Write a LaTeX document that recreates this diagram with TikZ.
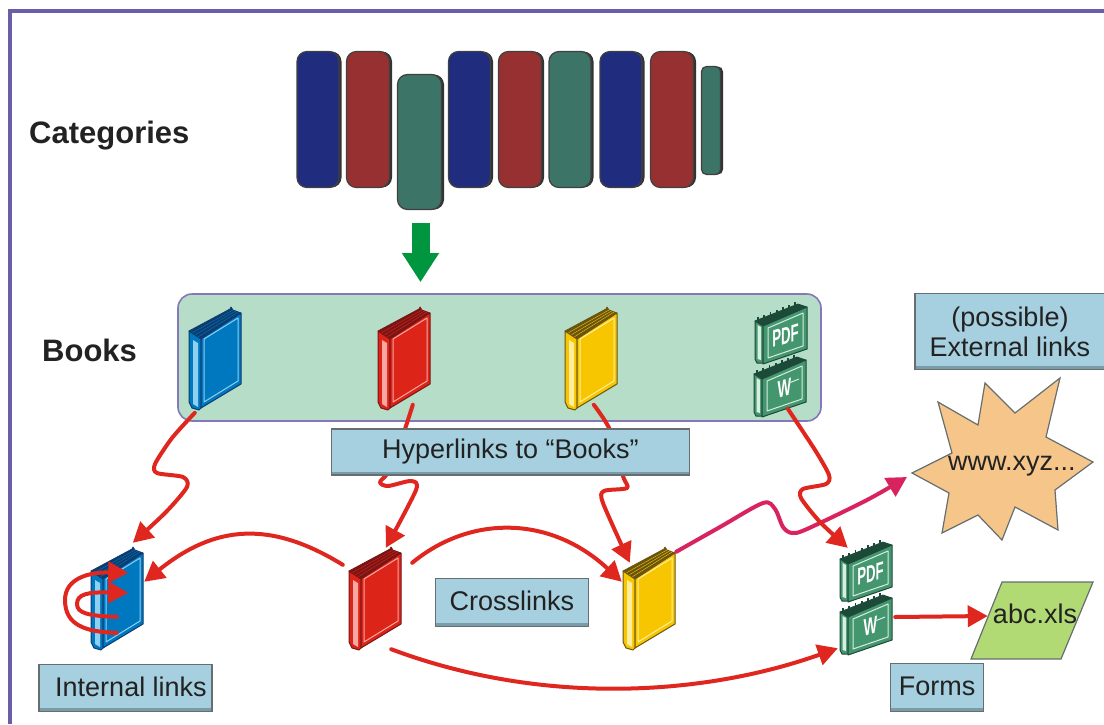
\documentclass[tikz,border=0pt]{standalone}
\usepackage{fontspec}
\setmainfont{Liberation Sans}
\usetikzlibrary{arrows.meta,calc,shadows}
\definecolor{framec}{HTML}{6A5EA8}
\definecolor{catblue}{HTML}{202D7E}
\definecolor{catred}{HTML}{973030}
\definecolor{catgreen}{HTML}{3C7468}
\definecolor{groupfill}{HTML}{B5DDC8}
\definecolor{groupline}{HTML}{8478B8}
\definecolor{boxfill}{HTML}{A6D0DF}
\definecolor{boxline}{HTML}{666E70}
\definecolor{boxbase}{HTML}{7A9CA8}
\definecolor{linkred}{HTML}{E0271F}
\definecolor{linkpink}{HTML}{D9235F}
\definecolor{arrowgreen}{HTML}{009640}
\definecolor{inkc}{HTML}{222222}
\definecolor{burstfill}{HTML}{F5C58A}
\definecolor{xlsfill}{HTML}{B2DA74}
\definecolor{docfront}{HTML}{44966F}
\definecolor{docdark}{HTML}{1D4A38}
\definecolor{docline}{HTML}{D8EEE2}
\definecolor{bfront}{HTML}{0078C0}
\definecolor{bdark}{HTML}{0C3C70}
\definecolor{blight}{HTML}{8FD0F0}
\definecolor{rfront}{HTML}{DC2418}
\definecolor{rdark}{HTML}{7A1515}
\definecolor{rlight}{HTML}{F8A8A0}
\definecolor{yfront}{HTML}{F8C600}
\definecolor{ydark}{HTML}{6A5510}
\definecolor{ylight}{HTML}{FFEEA0}
\tikzset{
  catbar/.style={rounded corners=10pt,inner sep=0pt,draw=black!75,line width=1.2pt,fill=#1,
    drop shadow={opacity=1,fill=black!80,shadow xshift=2.5pt,shadow yshift=0pt}},
  textbox/.style={fill=boxfill,draw=boxline,line width=1.4pt,inner sep=0pt,align=center,
    text=inkc,font=\fontsize{27}{30}\selectfont,
    path picture={\fill[boxbase] ([yshift=3.5pt]path picture bounding box.south west) rectangle (path picture bounding box.south east);}},
  heading/.style={font=\fontsize{31}{32}\selectfont\bfseries,text=inkc,inner sep=0pt},
  link/.style={draw=linkred,line width=4pt,line cap=round,line join=round,
    -{Triangle[length=20pt,width=21pt]}},
  pinklink/.style={link,draw=linkpink},
  shape label/.style={font=\fontsize{27}{30}\selectfont,text=inkc,inner sep=0pt},
}
\newcommand{\bookicon}[6]{%
\begin{scope}[shift={(#2,#3)},line join=round]
  \node[inner sep=0pt,minimum width=53pt,minimum height=103pt] (#1) at (26.5,51.5) {};
  \fill[#5,draw=#5,line width=.8pt] (0,24)--(41,2)--(42,0)--(44,3)--(52,6)--(12,32)--cycle;
  \draw[#4,line width=.4pt] (3,26)--(44,3) (6,28)--(46.5,4) (9,30)--(49,5);
  \fill[#4,draw=#5,line width=1pt] (0,24)--(12,32)--(12,101)--(10,103)--(3,101)--(0,95)--cycle;
  \fill[#6] (4,33)--(9,36)--(9,100)--(4,97)--cycle;
  \fill[#4,draw=#5,line width=1pt] (12,32)--(52,6)--(52,77)--(12,101)--cycle;
  \draw[#6,line width=1pt] (15,32)--(49,11)--(49,74)--(15,95)--cycle;
\end{scope}}
\newcommand{\docicon}[5]{%
\begin{scope}[shift={(#2,#3)},line join=round]
  \node[inner sep=0pt,minimum width=52pt,minimum height=60pt] (#1) at (26,30) {};
  \fill[docdark,draw=docdark,line width=.8pt] (0,17)--(43,0)--(52,3)--(8,22)--cycle;
  \foreach \i in {0,...,6}{\draw[docdark,line width=1.8pt] ({3+6.2*\i},{16-2.5*\i})--++(0,-2.8);}
  \fill[docfront,draw=docdark,line width=1pt] (0,17)--(8,22)--(8,59)--(2,59)--(0,55)--cycle;
  \fill[docline] (2.5,21)--(6,23)--(6,56)--(2.5,55)--cycle;
  \fill[docfront,draw=docdark,line width=1pt] (8,22)--(52,3)--(52,45)--(8,60)--cycle;
  \draw[docline,line width=1pt] (13,24)--(48,9)--(48,42)--(13,54)--cycle;
  \node[transform shape,yslant=.3,xscale=#5,font=\fontsize{24}{24}\selectfont\bfseries,text=white,inner sep=0pt] at (30.5,31.5) {#4};
\end{scope}}
\newcommand{\wdash}[2]{\draw[docline,line width=1pt] (#1+35,#2+26)--(#1+45,#2+22);}
\begin{document}
\begin{tikzpicture}[x=1pt,y=-1pt]
\useasboundingbox (0,0) rectangle (1104,724);
% frame
\coordinate (frameTL) at (10,11);
\coordinate (frameB) at (10,724);
\coordinate (frameR) at (1104,11);
\draw[framec,line width=3.2pt] (frameB) -- (frameTL) -- (frameR);
% headings
\node[heading,anchor=west] (catTitle) at (29,136) {Categories};
\node[heading,anchor=west] (bookTitle) at (42,350) {Books};
% category bars
\node[catbar=catblue,minimum width=42pt,minimum height=136pt] (c1) at (318,119.5) {};
\node[catbar=catred,minimum width=43pt,minimum height=136pt] (c2) at (368,119.5) {};
\node[catbar=catgreen,minimum width=44pt,minimum height=135pt] (c3) at (419.5,142) {};
\node[catbar=catblue,minimum width=42pt,minimum height=136pt] (c4) at (469.5,119.5) {};
\node[catbar=catred,minimum width=43pt,minimum height=136pt] (c5) at (520,119.5) {};
\node[catbar=catgreen,minimum width=42pt,minimum height=136pt] (c6) at (570,119.5) {};
\node[catbar=catblue,minimum width=42pt,minimum height=136pt] (c7) at (621,119.5) {};
\node[catbar=catred,minimum width=43pt,minimum height=136pt] (c8) at (672,119.5) {};
\node[catbar=catgreen,rounded corners=5pt,minimum width=19pt,minimum height=108pt] (c9) at (711,120.5) {};
% group
\node[fill=groupfill,draw=groupline,line width=1.6pt,rounded corners=14pt,inner sep=0pt,minimum width=643pt,minimum height=127pt] (group) at (499.5,357.5) {};
% green arrow
\draw[arrowgreen,line width=18pt,-{Triangle[length=29pt,width=35pt]}] ($(c3.south)+(1,13)$) -- ($(group.north)+(-79,-11)$);
% books
\bookicon{bkBlue}{189}{307}{bfront}{bdark}{blight}
\bookicon{bkRed}{378}{307}{rfront}{rdark}{rlight}
\bookicon{bkYellow}{565}{307}{yfront}{ydark}{ylight}
\docicon{docPdfTop}{755}{304}{PDF}{.55}
\docicon{docWTop}{754}{357}{W}{.6}
\wdash{754}{357}
\bookicon{lowBlue}{91}{547}{bfront}{bdark}{blight}
\bookicon{lowRed}{349}{547}{rfront}{rdark}{rlight}
\bookicon{lowYellow}{623}{547}{yfront}{ydark}{ylight}
\docicon{docPdfLow}{840}{542}{PDF}{.55}
\docicon{docWLow}{840}{595}{W}{.6}
\wdash{840}{595}
% burst and form
\fill[burstfill,draw=boxline,line width=1.2pt,line join=miter]
 (912,473)--(952,453)--(938,402)--(978,425)--(985,383)--(1015,413)--(1060,378)--(1046,437)--(1093,462)--(1055,490)--(1058,530)--(1015,507)--(1002,540)--(978,515)--(942,533)--(949,493)--cycle;
\node[shape label,anchor=west] (xyz) at (948,466) {www.xyz...};
\fill[xlsfill,draw=boxline,line width=1.2pt] (1002,582)--(1093,582)--(1061,659)--(971,659)--cycle;
\node[shape label] (xls) at (1035,614) {abc.xls};
% anchors
\coordinate (bkBlueOut) at ($(bkBlue.north west)+(6,106)$);
\coordinate (bkRedOut) at ($(bkRed.north west)+(35,98)$);
\coordinate (bkYellowOut) at ($(bkYellow.north west)+(29,98)$);
\coordinate (docOut) at ($(docWTop.north west)+(34,52)$);
\coordinate (lowBlueIn) at ($(lowBlue.north west)+(42,-4)$);
\coordinate (lowRedIn) at ($(lowRed.north west)+(37,1)$);
\coordinate (lowYellowIn) at ($(lowYellow.north west)+(7,16)$);
\coordinate (lowYellowOut) at ($(lowYellow.north east)+(0,5)$);
\coordinate (lowDocIn) at ($(docPdfLow.north west)+(8,6)$);
% pink link
\draw[pinklink] plot[smooth,tension=.5] coordinates {(lowYellowOut) (720,527) (763,503) (775,509) (783,527) (792,533) (807,529) (867,500) (907,477)};
% wiggly links from the books
\draw[link] plot[smooth,tension=.45] coordinates {(bkBlueOut) (172,438) (155,464) (157,473) (183,477) (187,487) (166,512) (lowBlueIn)};
\draw[link] plot[smooth,tension=.45] coordinates {(bkRedOut) (403,435) (390,470) (380,482) (388,486) (411,481) (416,490) (lowRedIn)};
\draw[link] plot[smooth,tension=.45] coordinates {(bkYellowOut) (610,430) (623,476) (627,488) (604,491) (603,503) (lowYellowIn)};
\draw[link] plot[smooth,tension=.45] coordinates {(docOut) (815,450) (829,475) (826,484) (803,489) (801,498) (820,522) (lowDocIn)};
% cross links
\draw[link] ($(lowRed.north west)+(-6,18)$) .. controls (270,520) and (215,525) .. ($(lowBlue.north east)+(0,35)$);
\draw[link] ($(lowRed.north east)+(10,16)$) .. controls (470,515) and (550,515) .. ($(lowYellow.north west)+(-1,35)$);
\draw[link] ($(lowRed.south east)+(-11,-1)$) .. controls (540,705) and (700,697) .. ($(docWLow.south west)+(-2,-7)$);
\draw[link] ($(docWLow.east)+(3,-8)$) -- ($(xls.west)+(-5,2)$);
% internal links
\draw[link] ($(lowBlue.north west)+(26,86)$) .. controls (85,632) and (65,625) .. (65,600) .. controls (65,578) and (90,572) .. ($(lowBlue.north east)+(-16,26)$);
\draw[link] ($(lowBlue.north west)+(26,70)$) .. controls (88,616) and (77,613) .. (77,604) .. controls (77,594) and (88,592) .. ($(lowBlue.north east)+(-16,46)$);
% text boxes
\node[textbox,minimum width=358pt,minimum height=46pt] (hyper) at (510.5,452) {\raisebox{1pt}{Hyperlinks to “Books”}};
\node[textbox,minimum width=190pt,minimum height=76pt] (external) at (1010,331.5) {(possible)\\External links};
\node[textbox,minimum width=153pt,minimum height=48pt] (cross) at (512,602.5) {\raisebox{4pt}{Crosslinks}};
\node[textbox,minimum width=173pt,minimum height=47pt] (internal) at (125.5,688) {\raisebox{3pt}{\hspace*{11pt}Internal links}};
\node[textbox,minimum width=93pt,minimum height=48pt] (forms) at (937,687.5) {\raisebox{2pt}{Forms}};
\end{tikzpicture}
\end{document}
